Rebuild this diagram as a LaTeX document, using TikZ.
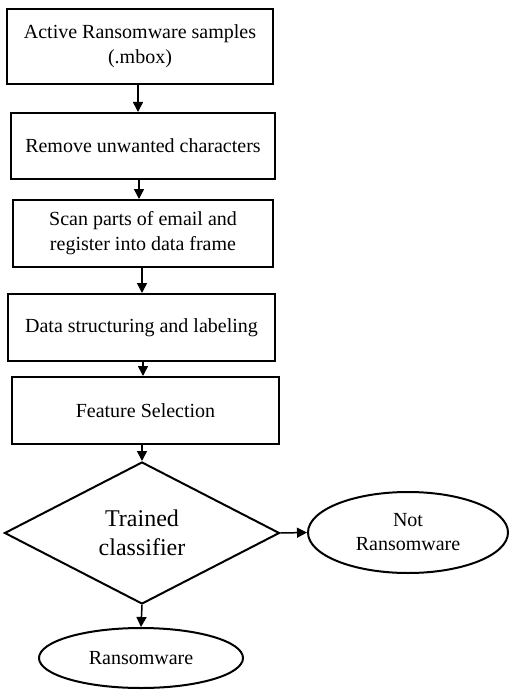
\documentclass[tikz,border=0pt]{standalone}
\usepackage{fontspec}
\setmainfont{Liberation Serif}
\usetikzlibrary{shapes.geometric,arrows.meta}
\begin{document}
\begin{tikzpicture}[x=1pt,y=-1pt,
  stepbox/.style={draw,line width=2pt,rectangle,inner sep=0pt,align=center,
    font=\fontsize{20}{25}\selectfont},
  decide/.style={draw,line width=2pt,diamond,inner sep=0pt,align=center,
    font=\fontsize{24}{29}\selectfont},
  endnode/.style={draw,line width=2pt,ellipse,inner sep=0pt,align=center,
    font=\fontsize{20}{24}\selectfont},
  arr/.style={line width=1.5pt,-{Triangle[length=10pt,width=10pt]}}]
\useasboundingbox (0,0) rectangle (511,695);
\node[stepbox,minimum width=266pt,minimum height=75pt] (b1) at (140,46.5) {Active Ransomware samples\\(.mbox)};
\node[stepbox,minimum width=264pt,minimum height=66pt] (b2) at (143,146) {Remove unwanted characters};
\node[stepbox,minimum width=260pt,minimum height=67pt] (b3) at (143,233.5) {Scan parts of email and\\register into data frame};
\node[stepbox,minimum width=267pt,minimum height=67pt] (b4) at (141.5,327.5) {Data structuring and labeling};
\node[stepbox,minimum width=267pt,minimum height=67pt] (b5) at (145.5,410.5) {Feature Selection};
\node[decide,minimum width=275pt,minimum height=142pt] (d) at (142,533) {Trained\\classifier};
\node[endnode,minimum width=200pt,minimum height=81pt] (nr) at (408,532.5) {Not\\Ransomware};
\node[endnode,minimum width=204pt,minimum height=60pt] (r) at (141,658) {Ransomware};
\coordinate (a1) at (138,84);
\coordinate (a2) at (139,179);
\coordinate (a3) at (142,267);
\coordinate (a4) at (143,361);
\coordinate (a5) at (142,444);
\draw[arr] (a1) -- (a1 |- b2.north);
\draw[arr] (a2) -- (a2 |- b3.north);
\draw[arr] (a3) -- (a3 |- b4.north);
\draw[arr] (a4) -- (a4 |- b5.north);
\draw[arr] (a5) -- (d.north);
\draw[arr] (d.east) -- (nr.west);
\draw[arr] (d.south) -- (r.north);
\end{tikzpicture}
\end{document}
